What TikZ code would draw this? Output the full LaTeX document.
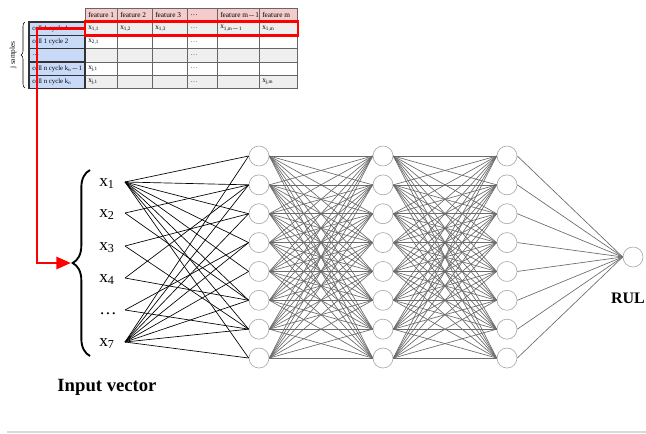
\documentclass[tikz,border=0pt]{standalone}
\usepackage{fontspec}
\setmainfont{Liberation Serif}
\usetikzlibrary{arrows.meta,positioning,calc,decorations.pathreplacing}

\definecolor{hdrpink}{HTML}{F4CCCC}
\definecolor{rowblue}{HTML}{C9DAF8}
\definecolor{rowgray}{HTML}{EFEFEF}
\definecolor{gridgray}{HTML}{666666}
\definecolor{selred}{HTML}{FF0000}

\tikzset{
  neuron/.style={circle,draw=gray!65,fill=white,line width=0.5pt,minimum size=15pt,inner sep=0pt},
  wire/.style={black!58,line width=0.5pt},
  inwire/.style={black,line width=0.5pt},
  tbltxt/.style={anchor=west,inner sep=0pt,font=\fontsize{5.5}{6}\selectfont},
}

\begin{document}
\begin{tikzpicture}[x=0.75pt,y=-0.75pt,>=Latex]
\useasboundingbox (0,0) rectangle (646,433);
\fill[hdrpink] (85,8) rectangle (297,22);
\fill[rowblue] (29,22) rectangle (85,88.5);
\foreach \r in {1,3,5} \fill[rowgray] (85,{22+13.3*(\r-1)}) rectangle (297,{22+13.3*\r});
\foreach \cx in {117,152,187,217,259,297} \draw[gridgray,line width=0.6pt] (\cx,8) -- (\cx,88.5);
\draw[gridgray,line width=0.6pt] (85,8) -- (297,8);
\foreach \r in {0,...,5} \draw[gridgray,line width=0.6pt] (85,{22+13.3*\r}) -- (297,{22+13.3*\r});
\foreach \r in {1,...,4} \draw[black!80,line width=0.9pt] (29,{22+13.3*\r}) -- (85,{22+13.3*\r});
\draw[black!80,line width=0.9pt] (29,22) rectangle (85,88.5);
\draw[gridgray,line width=0.6pt] (85,8) -- (85,22);
\foreach \t/\cx [count=\i] in {feature 1/85,feature 2/117,feature 3/152,\dots/187,feature m$-$1/217,feature m/259}
  \node[tbltxt] (f\i) at (\cx+3,15) {\t};
\foreach \t [count=\i] in {cell 1 cycle 1,cell 1 cycle 2,\dots,cell n cycle k\textsubscript{n}$-$1,cell n cycle k\textsubscript{n}}
  \node[tbltxt,font=\fontsize{5.1}{6}\selectfont] (r\i) at (32,{22+13.3*(\i-0.5)}) {\t};
\foreach \t/\cx [count=\i] in {{x\textsubscript{1,1}}/85,{x\textsubscript{1,2}}/117,{x\textsubscript{1,3}}/152,{x\textsubscript{1,m$-$1}}/217,{x\textsubscript{1,m}}/259}
  \node[tbltxt] (d1-\i) at (\cx+3,28.65) {\t};
\foreach \r in {1,...,5} \node[tbltxt,text=black!70] (dots\r) at (190,{22+13.3*(\r-0.5)}) {\dots};
\node[tbltxt] (d2-1) at (88,41.95) {x\textsubscript{2,1}};
\node[tbltxt] (d4-1) at (88,68.55) {x\textsubscript{j,1}};
\node[tbltxt] (d5-1) at (88,81.85) {x\textsubscript{j,1}};
\node[tbltxt] (d5-6) at (262,81.85) {x\textsubscript{j,m}};
\draw[decorate,decoration={brace,amplitude=3pt},line width=0.4pt] (25,88) -- (25,22);
\node[rotate=90,font=\fontsize{5.5}{6}\selectfont] (jlbl) at (13,55) {j samples};

\foreach \l/\cx in {1/259,2/383,3/507}
  \foreach \k in {1,...,8}
    \node[neuron] (h\l-\k) at (\cx,{156+28.86*(\k-1)}) {};
\node[neuron] (out) at (633,257) {};
\foreach \a in {1,...,8}
  \foreach \b in {1,...,8} {
    \draw[wire] (h1-\a.east) -- (h2-\b.west);
    \draw[wire] (h2-\a.east) -- (h3-\b.west);
  }
\foreach \a in {1,...,8} \draw[wire] (h3-\a.east) -- (out.west);

\foreach \i/\cy/\t in {1/182/{x\textsubscript{1}},2/213/{x\textsubscript{2}},3/246/{x\textsubscript{3}},4/278/{x\textsubscript{4}},5/310/{\dots},6/342/{x\textsubscript{7}}} {
  \node[anchor=base west,inner sep=0pt,font=\fontsize{13}{14}\selectfont] (xl\i) at (99,{\cy+4}) {\t};
  \coordinate (in\i) at (125,\cy);
}
\foreach \b in {1,...,8} {
  \draw[inwire] (in1) -- (h1-\b.west);
  \draw[inwire] (in6) -- (h1-\b.west);
}
\foreach \a/\b in {2/2,2/6,3/3,3/7,4/2,4/6,5/4,5/7} \draw[inwire] (in\a) -- (h1-\b.west);
\draw[decorate,decoration={brace,amplitude=13pt},line width=1.4pt] (90,356) -- (90,170);
\coordinate (bracetip) at (71,263);

\coordinate (selw) at (85,28.5);
\draw[selred,line width=2.2pt] (85,21.5) rectangle (298,35.5);
\draw[selred,line width=2.2pt,-{Triangle[length=11pt,width=9pt]}] (selw) -- (37,28.5) -- (37,263) -- (bracetip);

\node[font=\bfseries\fontsize{14}{16}\selectfont] (invec) at (107,387) {Input vector};
\node[font=\bfseries\fontsize{12}{14}\selectfont] (rul) at (628,298) {RUL};
\draw[black!15,line width=1.2pt] (7,432) -- (646,432);
\end{tikzpicture}
\end{document}
